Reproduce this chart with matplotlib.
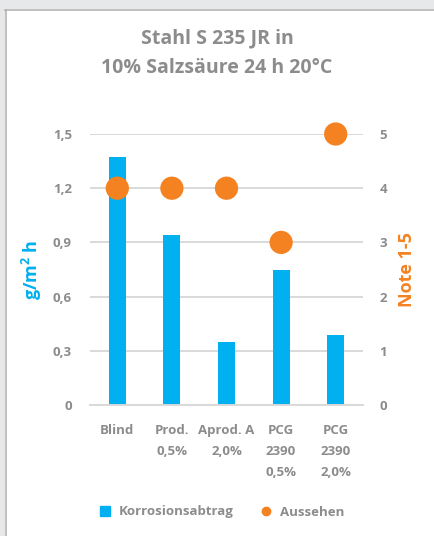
import numpy as np
import matplotlib.pyplot as plt
from matplotlib.patches import Rectangle
from matplotlib.lines import Line2D

plt.rcParams['font.family'] = ['Open Sans', 'DejaVu Sans']

categories = ["Blind", "Prod.\n0,5%", "Aprod. A\n2,0%", "PCG\n2390\n0,5%", "PCG\n2390\n2,0%"]
abtrag = [1.37, 0.94, 0.35, 0.75, 0.39]   # g/m² h
aussehen = [4, 4, 4, 3, 5]                 # Note 1-5

blue = "#00b0f0"
orange = "#f58220"
grey_txt = "#8c8c8c"
grid_col = "#d9d9d9"

W, H = 434, 536
fig = plt.figure(figsize=(W / 100, H / 100), dpi=100)
fig.patch.set_facecolor("white")

# window frame around the chart area
fig.patches.append(Rectangle((0, 1 - 9 / H), 1, 9 / H, transform=fig.transFigure,
                             facecolor="#e7e8ea", edgecolor="none", zorder=0))
fig.patches.append(Rectangle((0, 0), 5 / W, 1, transform=fig.transFigure,
                             facecolor="#e7e8ea", edgecolor="none", zorder=0))
fig.lines.append(Line2D([5.5 / W, 5.5 / W], [0, 1 - 9.5 / H], transform=fig.transFigure,
                        color="#b4b4b4", lw=1.2))
fig.lines.append(Line2D([5 / W, 1], [1 - 9.5 / H, 1 - 9.5 / H], transform=fig.transFigure,
                        color="#b4b4b4", lw=1.2))

ax = fig.add_axes([90 / W, 1 - 405 / H, 273 / W, 271 / H])
x = np.arange(len(categories))
ax.bar(x, abtrag, width=0.31, color=blue, zorder=2)
ax.set_xlim(-0.5, len(categories) - 0.5)
ax.set_ylim(0, 1.5)
ax.set_yticks([0, 0.3, 0.6, 0.9, 1.2, 1.5])
ax.set_yticklabels(["0", "0,3", "0,6", "0,9", "1,2", "1,5"])
ax.yaxis.grid(True, color=grid_col, lw=1.4, zorder=0)
ax.set_axisbelow(True)
for s in ["top", "right", "left"]:
    ax.spines[s].set_visible(False)
ax.spines["bottom"].set_color(grid_col)
ax.spines["bottom"].set_linewidth(1.4)
ax.tick_params(axis="both", length=0, colors=grey_txt, labelsize=9.5)
ax.tick_params(axis="y", pad=13)
ax.tick_params(axis="x", pad=14)
ax.set_xticks(x)
ax.set_xticklabels(categories, fontweight="bold", linespacing=1.8, va="top")
for lbl in ax.get_yticklabels():
    lbl.set_fontweight("bold")
ax.set_ylabel("g/m$^{\\mathregular{2}}$ h", color=blue, fontsize=13, fontweight="bold", labelpad=6)

ax2 = ax.twinx()
ax2.scatter(x, aussehen, s=280, color=orange, zorder=3, edgecolors="none", clip_on=False)
ax2.set_ylim(0, 5)
ax2.set_yticks([0, 1, 2, 3, 4, 5])
for s in ["top", "right", "left", "bottom"]:
    ax2.spines[s].set_visible(False)
ax2.tick_params(axis="y", length=0, colors=grey_txt, labelsize=9.5, pad=12)
for lbl in ax2.get_yticklabels():
    lbl.set_fontweight("bold")
ax2.set_ylabel("Note 1-5", color=orange, fontsize=13, fontweight="bold", labelpad=8)

fig.text(0.5, 1 - 38 / H, "Stahl S 235 JR in", ha="center", va="center",
         fontsize=14, fontweight="bold", color=grey_txt)
fig.text(0.5, 1 - 68 / H, "10% Salzsäure 24 h 20°C", ha="center", va="center",
         fontsize=14, fontweight="bold", color=grey_txt)

handles = [Line2D([], [], marker="s", ls="none", color=blue, markersize=7.5),
           Line2D([], [], marker="o", ls="none", color=orange, markersize=6)]
fig.legend(handles, ["Korrosionsabtrag", "Aussehen"], loc="center",
           bbox_to_anchor=(0.51, 1 - 512 / H), ncol=2, frameon=False,
           prop={"weight": "bold", "size": 9.5}, labelcolor=grey_txt,
           handletextpad=0.5, columnspacing=2.0, handlelength=1.0)

fig.savefig("out.png", dpi=100)
